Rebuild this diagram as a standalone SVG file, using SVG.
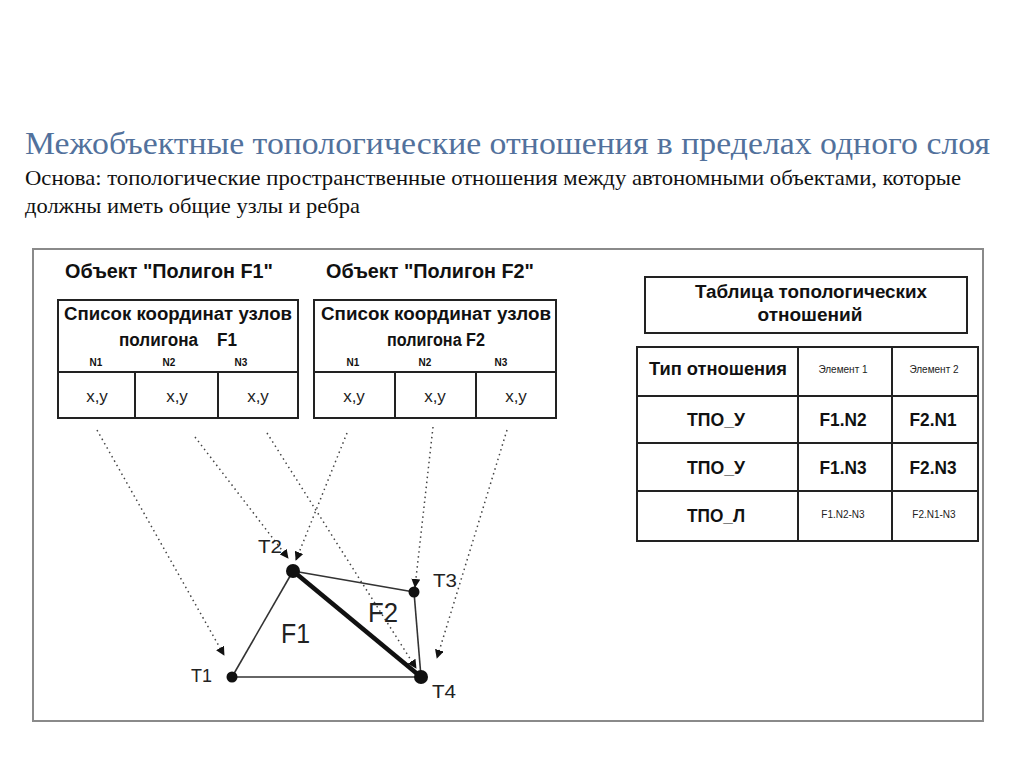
<svg xmlns="http://www.w3.org/2000/svg" width="1024" height="768" viewBox="0 0 1024 768">
<style>
.title{font-family:"Liberation Serif",serif;font-size:32px;fill:#52719c}
.sub{font-family:"Liberation Serif",serif;font-size:21px;fill:#111}
.b{font-family:"Liberation Sans",Arial,sans-serif;font-weight:bold;fill:#111}
.n{font-family:"Liberation Sans",Arial,sans-serif;fill:#222}
.box{fill:#fff;stroke:#222;stroke-width:2}
.edge{stroke:#333;stroke-width:1.6;fill:none}
.dot{stroke:#444;stroke-width:1.5;stroke-dasharray:1.5 3.5;fill:none}
.pt{fill:#111}
</style>
<defs>
<marker id="ah" viewBox="0 0 10 10" refX="9" refY="5" markerWidth="9" markerHeight="9" markerUnits="userSpaceOnUse" orient="auto">
<path d="M0,0 L10,5 L0,10 z" fill="#111"/>
</marker>
</defs>
<rect width="1024" height="768" fill="#fff"/>
<text class="title" x="25" y="154" textLength="965" lengthAdjust="spacingAndGlyphs">Межобъектные топологические отношения в пределах одного слоя</text>
<text class="sub" x="25" y="185" textLength="936" lengthAdjust="spacingAndGlyphs">Основа: топологические пространственные отношения между автономными объектами, которые</text>
<text class="sub" x="25" y="213" textLength="335" lengthAdjust="spacingAndGlyphs">должны иметь общие узлы и ребра</text>
<rect x="33" y="249" width="950" height="472" fill="none" stroke="#8a8a8a" stroke-width="2"/>
<g id="f1-object">
<text class="b" x="65" y="278" font-size="20" textLength="208" lengthAdjust="spacingAndGlyphs">Объект "Полигон F1"</text>
<rect class="box" x="58" y="300" width="240" height="118"/>
<line x1="58" y1="372" x2="298" y2="372" stroke="#222" stroke-width="2"/>
<line x1="135" y1="372" x2="135" y2="418" stroke="#222" stroke-width="2"/>
<line x1="218" y1="372" x2="218" y2="418" stroke="#222" stroke-width="2"/>
<text class="b" x="178" y="320" font-size="18" text-anchor="middle" textLength="228" lengthAdjust="spacingAndGlyphs">Список координат узлов</text>
<text class="b" x="178" y="346" font-size="18" text-anchor="middle" xml:space="preserve" textLength="118" lengthAdjust="spacingAndGlyphs">полигона    F1</text>
<text class="b" x="96" y="366" font-size="10" fill="#555" text-anchor="middle">N1</text>
<text class="b" x="169" y="366" font-size="10" fill="#555" text-anchor="middle">N2</text>
<text class="b" x="241" y="366" font-size="10" fill="#555" text-anchor="middle">N3</text>
<text class="n" x="97" y="402" font-size="17" fill="#444" text-anchor="middle">x,y</text>
<text class="n" x="177" y="402" font-size="17" fill="#444" text-anchor="middle">x,y</text>
<text class="n" x="258" y="402" font-size="17" fill="#444" text-anchor="middle">x,y</text>
</g>
<g id="f2-object">
<text class="b" x="326" y="278" font-size="20" textLength="208" lengthAdjust="spacingAndGlyphs">Объект "Полигон F2"</text>
<rect class="box" x="314" y="300" width="242" height="118"/>
<line x1="314" y1="372" x2="556" y2="372" stroke="#222" stroke-width="2"/>
<line x1="395" y1="372" x2="395" y2="418" stroke="#222" stroke-width="2"/>
<line x1="476" y1="372" x2="476" y2="418" stroke="#222" stroke-width="2"/>
<text class="b" x="436" y="320" font-size="18" text-anchor="middle" textLength="230" lengthAdjust="spacingAndGlyphs">Список координат узлов</text>
<text class="b" x="436" y="346" font-size="18" text-anchor="middle" textLength="98" lengthAdjust="spacingAndGlyphs">полигона  F2</text>
<text class="b" x="353" y="366" font-size="10" fill="#555" text-anchor="middle">N1</text>
<text class="b" x="425" y="366" font-size="10" fill="#555" text-anchor="middle">N2</text>
<text class="b" x="501" y="366" font-size="10" fill="#555" text-anchor="middle">N3</text>
<text class="n" x="354" y="402" font-size="17" fill="#444" text-anchor="middle">x,y</text>
<text class="n" x="435" y="402" font-size="17" fill="#444" text-anchor="middle">x,y</text>
<text class="n" x="516" y="402" font-size="17" fill="#444" text-anchor="middle">x,y</text>
</g>
<g id="table-title">
<rect class="box" x="645" y="277" width="322" height="56"/>
<text class="b" x="811" y="298" font-size="18" text-anchor="middle" textLength="232" lengthAdjust="spacingAndGlyphs">Таблица топологических</text>
<text class="b" x="810" y="321" font-size="18" text-anchor="middle" textLength="105" lengthAdjust="spacingAndGlyphs">отношений</text>
</g>
<g id="relations-table">
<rect class="box" x="637" y="347" width="341" height="194"/>
<line x1="798" y1="347" x2="798" y2="541" stroke="#222" stroke-width="2"/>
<line x1="892" y1="347" x2="892" y2="541" stroke="#222" stroke-width="2"/>
<line x1="637" y1="396" x2="978" y2="396" stroke="#222" stroke-width="2"/>
<line x1="637" y1="443" x2="978" y2="443" stroke="#222" stroke-width="2"/>
<line x1="637" y1="491" x2="978" y2="491" stroke="#222" stroke-width="2"/>
<text class="b" x="718" y="375" font-size="19" text-anchor="middle" textLength="138" lengthAdjust="spacingAndGlyphs">Тип отношения</text>
<text class="n" x="843" y="373" font-size="10" fill="#666" text-anchor="middle">Элемент 1</text>
<text class="n" x="934" y="373" font-size="10" fill="#666" text-anchor="middle">Элемент 2</text>
<text class="b" x="716" y="426" font-size="19" text-anchor="middle" textLength="58" lengthAdjust="spacingAndGlyphs">ТПО_У</text>
<text class="b" x="843" y="426" font-size="19" text-anchor="middle" textLength="47" lengthAdjust="spacingAndGlyphs">F1.N2</text>
<text class="b" x="933" y="426" font-size="19" text-anchor="middle" textLength="47" lengthAdjust="spacingAndGlyphs">F2.N1</text>
<text class="b" x="716" y="474" font-size="19" text-anchor="middle" textLength="58" lengthAdjust="spacingAndGlyphs">ТПО_У</text>
<text class="b" x="843" y="474" font-size="19" text-anchor="middle" textLength="47" lengthAdjust="spacingAndGlyphs">F1.N3</text>
<text class="b" x="933" y="474" font-size="19" text-anchor="middle" textLength="47" lengthAdjust="spacingAndGlyphs">F2.N3</text>
<text class="b" x="716" y="522" font-size="19" text-anchor="middle" textLength="58" lengthAdjust="spacingAndGlyphs">ТПО_Л</text>
<text class="n" x="843" y="518" font-size="10" fill="#444" text-anchor="middle">F1.N2-N3</text>
<text class="n" x="934" y="518" font-size="10" fill="#444" text-anchor="middle">F2.N1-N3</text>
</g>
<g id="connectors">
<line class="dot" x1="97" y1="430" x2="224" y2="655" marker-end="url(#ah)"/>
<line class="dot" x1="195" y1="437" x2="288" y2="558" marker-end="url(#ah)"/>
<line class="dot" x1="347" y1="433" x2="296" y2="560" marker-end="url(#ah)"/>
<line class="dot" x1="267" y1="433" x2="416" y2="668" marker-end="url(#ah)"/>
<line class="dot" x1="433" y1="427" x2="415" y2="587" marker-end="url(#ah)"/>
<line class="dot" x1="507" y1="430" x2="437" y2="658" marker-end="url(#ah)"/>
</g>
<g id="polygons">
<line class="edge" x1="232" y1="677" x2="293" y2="571"/>
<line class="edge" x1="232" y1="677" x2="421" y2="677"/>
<line class="edge" x1="293" y1="571" x2="414" y2="592"/>
<line class="edge" x1="414" y1="592" x2="421" y2="677"/>
<line x1="293" y1="571" x2="421" y2="677" stroke="#111" stroke-width="4.5"/>
<text class="n" x="281" y="643" font-size="27" fill="#444" textLength="29" lengthAdjust="spacingAndGlyphs">F1</text>
<text class="n" x="368" y="622" font-size="27" fill="#444" textLength="30" lengthAdjust="spacingAndGlyphs">F2</text>
</g>
<g id="T1"><circle class="pt" cx="232" cy="677" r="5.5"/><text class="n" x="191" y="682" font-size="19" textLength="21" lengthAdjust="spacingAndGlyphs">T1</text></g>
<g id="T2"><circle class="pt" cx="293" cy="571" r="7"/><text class="n" x="258" y="553" font-size="19" textLength="24" lengthAdjust="spacingAndGlyphs">T2</text></g>
<g id="T3"><circle class="pt" cx="414" cy="592" r="5.5"/><text class="n" x="433" y="587" font-size="19" textLength="24" lengthAdjust="spacingAndGlyphs">T3</text></g>
<g id="T4"><circle class="pt" cx="421" cy="677" r="7"/><text class="n" x="432" y="698" font-size="19" textLength="24" lengthAdjust="spacingAndGlyphs">T4</text></g>
</svg>
